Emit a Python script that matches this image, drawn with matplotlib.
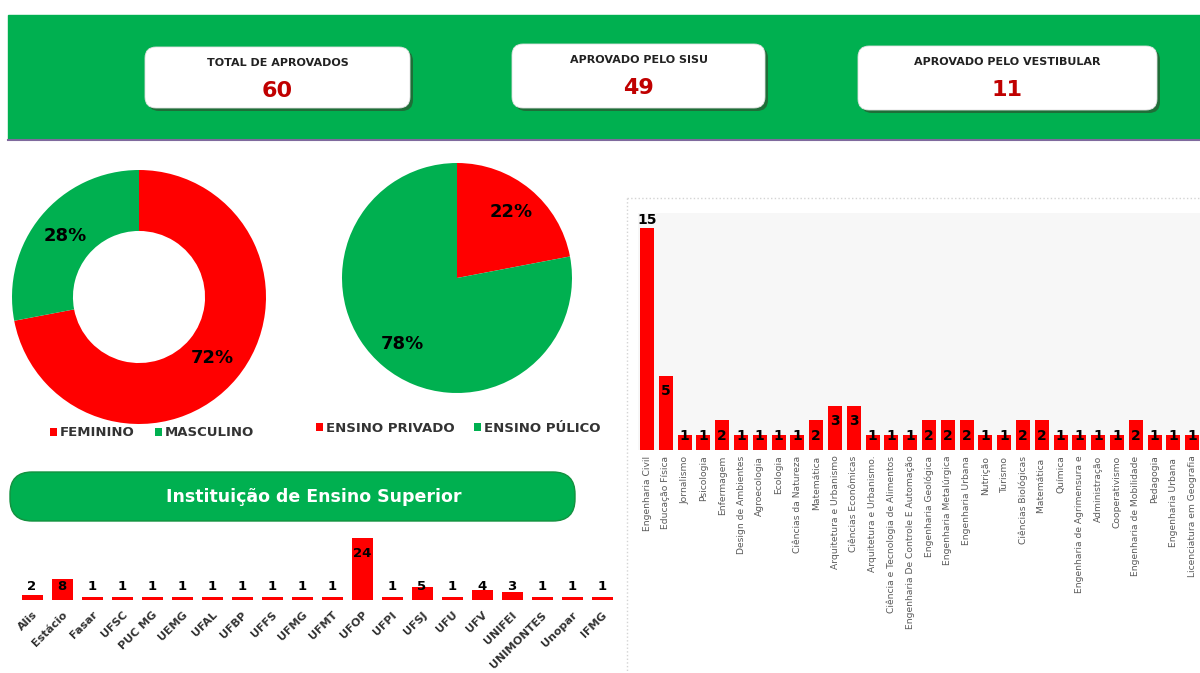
import matplotlib
matplotlib.use("Agg")
import matplotlib.pyplot as plt
from matplotlib.patches import Rectangle, FancyBboxPatch

# dados
kpi_titulos = ["TOTAL DE APROVADOS", "APROVADO PELO SISU", "APROVADO PELO VESTIBULAR"]
kpi_valores = [60, 49, 11]

sexo_rotulos = ["FEMININO", "MASCULINO"]
sexo_valores = [72, 28]

ensino_rotulos = ["ENSINO PRIVADO", "ENSINO PÚLICO"]
ensino_valores = [22, 78]

instituicoes = ["Alis", "Estácio", "Fasar", "UFSC", "PUC MG", "UEMG", "UFAL", "UFBP",
                "UFFS", "UFMG", "UFMT", "UFOP", "UFPI", "UFSJ", "UFU", "UFV", "UNIFEI",
                "UNIMONTES", "Unopar", "IFMG"]
inst_valores = [2, 8, 1, 1, 1, 1, 1, 1, 1, 1, 1, 24, 1, 5, 1, 4, 3, 1, 1, 1]

cursos = ["Engenharia Civil", "Educação Física", "Jornalismo", "Psicologia", "Enfermagem",
          "Design de Ambientes", "Agroecologia", "Ecologia", "Ciências da Natureza",
          "Matemática", "Arquitetura e Urbanismo", "Ciências Econômicas",
          "Arquitetura e Urbanismo.", "Ciência e Tecnologia de Alimentos",
          "Engenharia De Controle E Automação", "Engenharia Geológica",
          "Engenharia Metalúrgica", "Engenharia Urbana", "Nutrição", "Turismo",
          "Ciências Biológicas", "Matemática ", "Química", "Engenharia de Agrimensura e",
          "Administração", "Cooperativismo", "Engenharia de Mobilidade", "Pedagogia",
          "Engenharia Urbana ", "Licenciatura em Geografia"]
curso_valores = [15, 5, 1, 1, 2, 1, 1, 1, 1, 2, 3, 3, 1, 1, 1, 2, 2, 2, 1, 1,
                 2, 2, 1, 1, 1, 1, 2, 1, 1, 1]

VERDE = "#00b050"
VERMELHO = "#ff0000"
NARROW = ["Liberation Sans Narrow", "DejaVu Sans"]

W, H = 1200, 673
fig = plt.figure(figsize=(12, 6.73), dpi=100)


def px_axes(x0, y0, x1, y1):
    return fig.add_axes([x0 / W, 1 - y1 / H, (x1 - x0) / W, (y1 - y0) / H])


# fundo / cabeçalho
bg = fig.add_axes([0, 0, 1, 1])
bg.set_xlim(0, W)
bg.set_ylim(H, 0)
bg.axis("off")

bg.add_patch(Rectangle((8, 15), W - 8, 124, color=VERDE, zorder=1))
bg.plot([8, W], [140, 140], color="#7f6a9d", lw=1.5, zorder=1)

caixas = [(145, 47, 410, 108), (512, 44, 765, 108), (858, 46, 1157, 110)]
for (x0, y0, x1, y1), tit, val in zip(caixas, kpi_titulos, kpi_valores):
    bg.add_patch(FancyBboxPatch((x0 + 3, y0 + 3), x1 - x0, y1 - y0,
                                boxstyle="round,pad=0,rounding_size=11",
                                fc="#1f6e38", ec="none", zorder=2))
    bg.add_patch(FancyBboxPatch((x0, y0), x1 - x0, y1 - y0,
                                boxstyle="round,pad=0,rounding_size=11",
                                fc="white", ec="#e0e0e0", lw=0.6, zorder=3))
    cx = (x0 + x1) / 2
    bg.text(cx, y0 + 16, tit, ha="center", va="center", fontsize=8,
            fontweight="bold", family=NARROW, color="#222222", zorder=4)
    bg.text(cx, y0 + 44, str(val), ha="center", va="center", fontsize=16,
            fontweight="bold", family=NARROW, color="#c00000", zorder=4)

# faixa "Instituição de Ensino Superior"
bg.add_patch(FancyBboxPatch((10, 472), 565, 49, boxstyle="round,pad=0,rounding_size=22",
                            fc=VERDE, ec="#13913f", lw=1, zorder=2))
bg.text(314, 497, "Instituição de Ensino Superior", ha="center", va="center",
        fontsize=12.5, fontweight="bold", color="white", zorder=3)

# borda pontilhada do gráfico de cursos
bg.plot([627, W], [198, 198], color="#d4d4d4", lw=1, ls=":", zorder=1)
bg.plot([627, 627], [198, H], color="#d4d4d4", lw=1, ls=":", zorder=1)

# rosca - sexo
ax1 = px_axes(12, 170, 266, 424)
w1, t1, a1 = ax1.pie(sexo_valores, colors=[VERMELHO, VERDE], startangle=90,
                     counterclock=False, radius=1, autopct="%d%%", pctdistance=0.75,
                     wedgeprops=dict(width=0.48, edgecolor="none"))
for t in a1:
    t.set_fontsize(13)
    t.set_fontweight("bold")
    t.set_color("black")
ax1.set_xlim(-1, 1)
ax1.set_ylim(-1, 1)
fig.legend(w1, sexo_rotulos, loc="center", bbox_to_anchor=(152 / W, 1 - 433 / H),
           ncol=2, frameon=False, handlelength=0.55, handleheight=0.55,
           handletextpad=0.2, columnspacing=1.5,
           prop=dict(size=9.5, weight="bold"), labelcolor="#333333")

# pizza - ensino
ax2 = px_axes(342, 163, 572, 393)
w2, t2, a2 = ax2.pie(ensino_valores, colors=[VERMELHO, VERDE], startangle=90,
                     counterclock=False, radius=1, autopct="%d%%", pctdistance=0.74,
                     wedgeprops=dict(edgecolor="none"))
for t in a2:
    t.set_fontsize(13)
    t.set_fontweight("bold")
    t.set_color("black")
ax2.set_xlim(-1, 1)
ax2.set_ylim(-1, 1)
fig.legend(w2, ensino_rotulos, loc="center", bbox_to_anchor=(458 / W, 1 - 428 / H),
           ncol=2, frameon=False, handlelength=0.55, handleheight=0.55,
           handletextpad=0.2, columnspacing=1.5,
           prop=dict(size=9.5, weight="bold"), labelcolor="#333333")

# barras - cursos (passo de ~18.8 px, última barra rente à borda)
passo = 18.8
ax3 = px_axes(647 - passo / 2, 213, 647 + passo * (len(cursos) - 0.5), 450)
xc = range(len(cursos))
ax3.bar(xc, curso_valores, width=0.74, color=VERMELHO)
ax3.set_xlim(-0.5, len(cursos) - 0.5)
ax3.set_ylim(0, 16)
ax3.set_facecolor("#f7f7f7")
for s in ax3.spines.values():
    s.set_visible(False)
ax3.set_yticks([])
ax3.set_xticks(list(xc))
ax3.set_xticklabels(cursos, rotation=90, fontsize=6.6, color="#595959")
ax3.tick_params(axis="x", length=0, pad=4)
vmax = max(curso_valores)
for i, v in enumerate(curso_valores):
    y = v + 0.55 if v == vmax else max(v - 1.05, 0.95)
    ax3.text(i, y, str(v), ha="center", va="center", fontsize=10,
             fontweight="bold", color="black")

# barras - instituições
ax4 = px_axes(17, 530, 617, 600)
xi = range(len(instituicoes))
ax4.bar(xi, inst_valores, width=0.7, color=VERMELHO)
ax4.set_xlim(-0.5, len(instituicoes) - 0.5)
ax4.set_ylim(0, 70 / 2.6)
ax4.patch.set_alpha(0)
for s in ax4.spines.values():
    s.set_visible(False)
ax4.set_yticks([])
ax4.set_xticks(list(xi))
ax4.set_xticklabels(instituicoes, rotation=45, ha="right", rotation_mode="anchor",
                    fontsize=8, fontweight="bold", color="#333333")
ax4.tick_params(axis="x", length=0, pad=7)
for i, v in enumerate(inst_valores):
    ax4.text(i, max(v - 6, 5.3), str(v), ha="center", va="center", fontsize=9.5,
             fontweight="bold", color="black")

fig.savefig("out.png", dpi=100)
